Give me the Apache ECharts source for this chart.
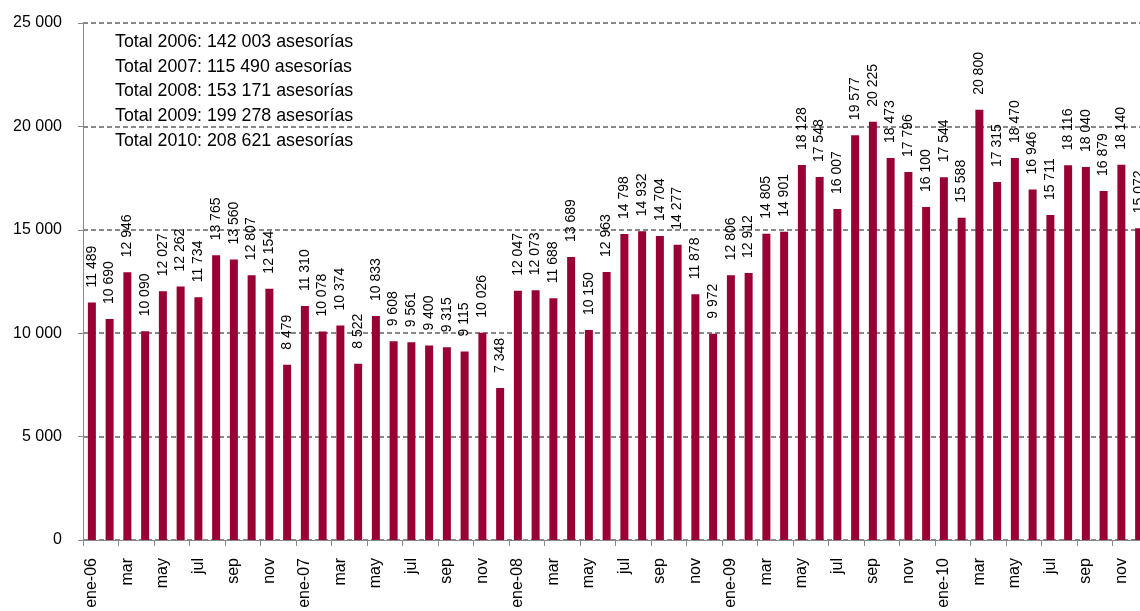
<!DOCTYPE html>
<html>
<head>
<meta charset="utf-8">
<script src="https://cdn.jsdelivr.net/npm/echarts@6/dist/echarts.min.js"></script>
<style>html,body{margin:0;padding:0;background:#fff;overflow:hidden;width:1140px;height:611px;}#c{width:1148px;height:611px;}</style>
</head>
<body>
<div id="c"></div>
<script>
const months = ["ene","feb","mar","abr","may","jun","jul","ago","sep","oct","nov","dic"];
const years = ["06","07","08","09","10"];
const categories = [];
years.forEach(y => months.forEach((m, i) => categories.push(i === 0 ? m + "-" + y : m)));

const values2006 = [11489, 10690, 12946, 10090, 12027, 12262, 11734, 13765, 13560, 12807, 12154, 8479];
const values2007 = [11310, 10078, 10374, 8522, 10833, 9608, 9561, 9400, 9315, 9115, 10026, 7348];
const values2008 = [12047, 12073, 11688, 13689, 10150, 12963, 14798, 14932, 14704, 14277, 11878, 9972];
const values2009 = [12806, 12912, 14805, 14901, 18128, 17548, 16007, 19577, 20225, 18473, 17796, 16100];
const values2010 = [17544, 15588, 20800, 17315, 18470, 16946, 15711, 18116, 18040, 16879, 18140, 15072];
const values = [].concat(values2006, values2007, values2008, values2009, values2010);

const totals = [
  "Total 2006: 142 003 asesorías",
  "Total 2007: 115 490 asesorías",
  "Total 2008: 153 171 asesorías",
  "Total 2009: 199 278 asesorías",
  "Total 2010: 208 621 asesorías"
];

const fmt = v => String(v).replace(/\B(?=(\d{3})+(?!\d))/g, " ");
const FONT = "Liberation Sans, Arial, sans-serif";

const chart = echarts.init(document.getElementById("c"), null, {renderer: "canvas"});
chart.setOption({
  animation: false,
  backgroundColor: "#fff",
  grid: {left: 83, top: 23, right: 0, bottom: 71, containLabel: false},
  xAxis: {
    type: "category",
    data: categories,
    boundaryGap: true,
    axisLine: {lineStyle: {color: "#888", width: 1}},
    axisTick: {show: true, interval: 1, length: 6, lineStyle: {color: "#888"}},
    axisLabel: {interval: 1, rotate: 90, color: "#000", fontSize: 16, fontFamily: FONT, margin: 18}
  },
  yAxis: {
    type: "value",
    min: 0, max: 25000, interval: 5000,
    axisLine: {show: true, lineStyle: {color: "#888", width: 1}},
    axisTick: {show: true, length: 5, lineStyle: {color: "#888"}},
    axisLabel: {color: "#000", fontSize: 16, fontFamily: FONT, margin: 21, formatter: v => fmt(v)},
    splitLine: {show: true, lineStyle: {color: "#888", type: [5, 3], width: 2}}
  },
  series: [{
    type: "bar",
    data: values,
    barWidth: 8,
    itemStyle: {color: "#990033"},
    label: {
      show: true,
      position: "top",
      rotate: 90,
      align: "left",
      verticalAlign: "middle",
      distance: 15,
      color: "#000",
      fontSize: 14,
      fontFamily: FONT,
      formatter: p => fmt(p.value)
    }
  }],
  graphic: totals.map((t, i) => ({
    type: "text",
    left: 115,
    top: 33 + i * 24.8,
    style: {text: t, fill: "#000", font: "17.8px " + FONT}
  }))
});
</script>
</body>
</html>
